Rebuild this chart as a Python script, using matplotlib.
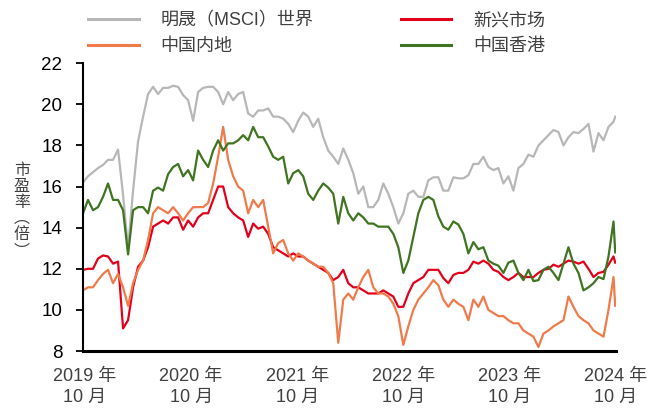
import matplotlib.pyplot as plt
from matplotlib.lines import Line2D
import pandas as pd

plt.rcParams['font.family'] = ['Liberation Sans', 'Noto Sans CJK SC']

# semi-monthly readings, Sep 2019 - Sep 2024, plus the last day
dates = pd.date_range('2019-09-25', '2024-09-24', periods=107).append(
    pd.DatetimeIndex(['2024-09-30']))

world = [16.2, 16.5, 16.7, 16.9, 17.05, 17.3, 17.3, 17.8, 15.6, 13.0, 15.8, 18.2,
         19.4, 20.5, 20.85, 20.5, 20.8, 20.8, 20.9, 20.85, 20.45, 20.2, 19.2, 20.6,
         20.8, 20.85, 20.85, 20.6, 20.0, 20.6, 20.2, 20.5, 20.6, 19.55, 19.4, 19.7,
         19.7, 19.8, 19.4, 19.4, 19.3, 19.05, 18.65, 19.2, 19.6, 19.4, 18.9, 19.3,
         18.4, 17.75, 17.45, 17.1, 17.85, 17.3, 16.65, 15.65, 16.0, 15.0, 15.0, 15.35,
         16.15, 15.65, 15.0, 14.2, 14.7, 15.65, 15.8, 15.5, 15.5, 16.3, 16.45,
         16.45, 15.8, 15.8, 16.45, 16.4, 16.4, 16.55, 17.1, 17.1, 17.45, 16.95, 16.8,
         16.9, 16.15, 16.5, 15.8, 16.9, 17.1, 17.55, 17.45, 18.0, 18.25, 18.5, 18.75,
         18.65, 18.0, 18.4, 18.65, 18.6, 18.8, 19.05, 17.7, 18.6, 18.25, 18.9, 19.15,
         19.4]

hk = [14.7, 15.35, 14.85, 15.0, 15.5, 16.15, 15.35, 15.35, 14.85, 12.7, 14.85, 15.0,
      15.0, 14.7, 15.8, 15.95, 15.8, 16.6, 16.95, 17.1, 16.5, 16.8, 16.3, 17.75,
      17.3, 16.95, 17.75, 18.25, 17.75, 18.1, 18.1, 18.25, 18.5, 18.25, 18.9, 18.4,
      18.4, 17.95, 17.45, 17.3, 17.45, 16.15, 16.65, 16.8, 16.5, 15.65, 15.35, 15.8,
      16.15, 15.95, 15.65, 14.2, 15.5, 14.7, 14.35, 14.7, 14.5, 14.2, 14.2, 14.05,
      14.05, 14.05, 13.7, 13.05, 11.8, 12.4, 13.55, 14.7, 15.35, 15.5, 15.35,
      14.55, 14.05, 13.9, 14.3, 14.15, 13.7, 12.75, 13.3, 12.95, 13.05, 12.4, 12.25,
      12.15, 11.8, 12.3, 12.4, 11.8, 11.45, 11.95, 11.4, 11.45, 11.95, 12.1, 11.8,
      11.45, 12.25, 13.05, 12.25, 11.8, 10.95, 11.1, 11.3, 11.6, 11.5, 12.6, 14.3,
      12.8]

em = [11.95, 12.0, 12.0, 12.5, 12.65, 12.6, 12.25, 12.35, 9.1, 9.5, 11.1, 12.1,
      12.4, 13.05, 14.05, 14.2, 14.35, 14.2, 14.5, 14.5, 13.9, 14.35, 14.05, 14.5,
      14.7, 14.7, 15.35, 16.0, 16.0, 15.0, 14.7, 14.5, 14.35, 13.55, 14.2, 13.95,
      14.05, 13.7, 13.05, 12.9, 12.75, 12.6, 12.75, 12.6, 12.6, 12.4, 12.25, 12.1,
      11.95, 11.8, 11.45, 11.6, 11.95, 11.3, 11.1, 11.1, 10.95, 10.8, 10.8, 10.8,
      10.95, 10.8, 10.65, 10.15, 10.15, 10.8, 11.3, 11.45, 11.6, 11.95, 11.95,
      11.95, 11.55, 11.3, 11.7, 11.8, 11.8, 11.95, 12.35, 12.25, 12.4, 12.25, 11.95,
      11.85, 11.6, 11.45, 11.6, 11.8, 11.6, 11.6, 11.6, 11.8, 11.95, 12.0, 12.2,
      12.1, 12.25, 12.4, 12.35, 12.25, 12.35, 12.0, 11.6, 11.8, 11.85, 12.2, 12.6,
      12.3]

mainland = [10.95, 11.1, 11.1, 11.45, 11.75, 11.95, 11.3, 11.75, 11.1, 10.2, 11.3, 11.95,
            12.4, 13.4, 14.7, 15.0, 14.85, 14.7, 15.0, 14.7, 14.35, 14.7, 15.0, 15.0,
            15.0, 15.2, 16.15, 17.45, 18.9, 17.3, 16.5, 16.0, 15.8, 14.7, 15.35, 15.0,
            15.35, 14.05, 12.75, 13.25, 13.4, 12.75, 12.4, 12.75, 12.6, 12.4, 12.25, 12.1,
            12.1, 11.8, 11.3, 8.4, 10.5, 10.8, 10.5, 11.1, 11.6, 11.95, 11.1, 10.8,
            10.8, 10.65, 10.3, 9.7, 8.3, 9.2, 10.0, 10.5, 10.8, 11.1, 11.45,
            11.2, 10.5, 10.15, 10.5, 10.3, 10.15, 9.5, 10.5, 10.15, 10.65, 10.0, 9.85,
            9.7, 9.7, 9.5, 9.35, 9.35, 9.0, 8.85, 8.7, 8.2, 8.85, 9.0, 9.2,
            9.35, 9.5, 10.65, 10.15, 9.7, 9.5, 9.35, 9.0, 8.85, 8.7, 10.0, 11.6,
            10.2]

labels = ['明晟（MSCI）世界', '新兴市场', '中国内地', '中国香港']
colors = ['#b7b7b7', '#e3001b', '#f07a4a', '#3f7420']

tick_dates = pd.to_datetime(['2019-10-01', '2020-10-01', '2021-10-01',
                             '2022-10-01', '2023-10-01', '2024-10-01'])
tick_labels = ['2019 年\n10 月', '2020 年\n10 月', '2021 年\n10 月',
               '2022 年\n10 月', '2023 年\n10 月', '2024 年\n10 月']

fig = plt.figure(figsize=(6.61, 4.13), dpi=100)
ax = fig.add_axes([0.1256, 0.150, 0.8065, 0.697])

handles = {}
for name, vals, c in zip(labels, [world, em, mainland, hk], colors):
    handles[name], = ax.plot(dates, vals, color=c, lw=1.6)

ax.set_ylim(8, 22)
ax.set_yticks(range(8, 23, 2))
ax.set_xlim(dates[0], pd.Timestamp('2024-10-03'))
ax.set_xticks(tick_dates)
ax.set_xticklabels(tick_labels, linespacing=1.35)

for s in ['top', 'right']:
    ax.spines[s].set_visible(False)
ax.spines['left'].set_linewidth(1.5)
ax.spines['bottom'].set_linewidth(2.2)
ax.tick_params(axis='x', length=0, pad=12, labelsize=13, labelcolor='#404040')
ax.tick_params(axis='y', length=5, width=1.3, pad=10, labelsize=13.5)

order = ['明晟（MSCI）世界', '中国内地', '新兴市场', '中国香港']
leg_handles = [Line2D([], [], color=handles[n].get_color(), lw=2.2) for n in order]
fig.legend(leg_handles, order, ncol=2, loc='upper left',
           bbox_to_anchor=(88 / 661, 0.97), frameon=False, fontsize=13,
           handlelength=2.8, handletextpad=1.2, columnspacing=4.85,
           labelspacing=0.47, borderpad=0, borderaxespad=0, labelcolor='#404040')

fig.text(0.033, 0.49, '市\n盈\n率\n︵\n倍\n︶', ha='center', va='center',
         fontsize=11.5, linespacing=1.1, color='#404040')

fig.savefig('out.png', dpi=100)
